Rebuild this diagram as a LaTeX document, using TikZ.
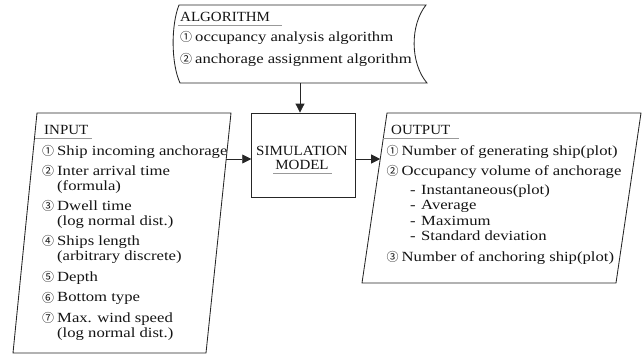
\documentclass[tikz,border=0pt]{standalone}
\usepackage{fontspec}
\setmainfont{Liberation Serif}
\newfontfamily\bodyfont[FakeStretch=1.19]{Liberation Serif}
\newfontfamily\capsfont[FakeStretch=1.07]{Liberation Serif}
\newfontfamily\circfont{Noto Sans CJK KR}
\usetikzlibrary{arrows.meta}
\newcommand{\cnum}[1]{\makebox[15pt][l]{\raisebox{-0.5pt}{\circfont\fontsize{12}{12}\selectfont #1}}}
\newcommand{\subdash}{\makebox[11pt][l]{-}}
\begin{document}
\begin{tikzpicture}[x=1pt,y=-1pt,
  txt/.style={anchor=base west, inner sep=0pt, text=black!92, font=\bodyfont\fontsize{14}{15}\selectfont},
  captxt/.style={inner sep=0pt, text=black!92, font=\capsfont\fontsize{14}{15}\selectfont},
  frame/.style={draw=black!85, line width=0.85pt},
  uline/.style={draw=black!40, line width=0.6pt},
  conn/.style={draw=black!85, line width=0.85pt, -{Triangle[length=9pt,width=9pt]}}]
\useasboundingbox (0,0) rectangle (643,356);

% ALGORITHM (stored data shape)
\draw[frame] (179,5) -- (426,5) .. controls (410,25) and (410,63) .. (427,83)
  -- (180,83) .. controls (171,63) and (171,25) .. (179,5) -- cycle;
\coordinate (alg) at (300,83);
\node[captxt, anchor=base west] (algT) at (180,21.5) {ALGORITHM};
\draw[uline] (178,25) -- (282,25);
\node[txt] (alg1) at (180,41) {\cnum{①}occupancy analysis algorithm};
\node[txt] (alg2) at (180,63) {\cnum{②}anchorage assignment algorithm};

% SIMULATION MODEL
\node[frame, minimum width=104pt, minimum height=84pt, inner sep=0pt] (sim) at (303.7,155) {};
\node[captxt, anchor=base] (simT1) at (302,155) {SIMULATION};
\node[captxt, anchor=base] (simT2) at (302,169) {MODEL};
\draw[uline] (273,173.5) -- (332,173.5);

% INPUT
\draw[frame] (37,113) -- (231,113) -- (206,353) -- (13,353) -- cycle;
\coordinate (inR) at (226.4,159);
\node[captxt, anchor=base west] (inT) at (44,134) {INPUT};
\draw[uline] (35,138.5) -- (92,138.5);
\node[txt] (in1) at (42,155) {\cnum{①}Ship incoming anchorage};
\node[txt] (in2) at (42,175) {\cnum{②}Inter arrival time};
\node[txt] (in2b) at (57,190) {(formula)};
\node[txt] (in3) at (42,210) {\cnum{③}Dwell time};
\node[txt] (in3b) at (57,225) {(log normal dist.)};
\node[txt] (in4) at (42,245) {\cnum{④}Ships length};
\node[txt] (in4b) at (57,260) {(arbitrary discrete)};
\node[txt] (in5) at (42,281) {\cnum{⑤}Depth};
\node[txt] (in6) at (42,301.5) {\cnum{⑥}Bottom type};
\node[txt] (in7) at (42,322) {\cnum{⑦}Max. wind speed};
\node[txt] (in7b) at (57,337) {(log normal dist.)};

% OUTPUT
\draw[frame] (387,113) -- (641,113) -- (616,283) -- (362,283) -- cycle;
\coordinate (outL) at (380.2,159);
\node[captxt, anchor=base west] (outT) at (391,134) {OUTPUT};
\draw[uline] (383,138.5) -- (459,138.5);
\node[txt] (o1) at (386.5,155) {\cnum{①}Number of generating ship(plot)};
\node[txt] (o2) at (386.5,175) {\cnum{②}Occupancy volume of anchorage};
\node[txt] (o2a) at (410,194) {\subdash Instantaneous(plot)};
\node[txt] (o2b) at (410,209.5) {\subdash Average};
\node[txt] (o2c) at (410,225) {\subdash Maximum};
\node[txt] (o2d) at (410,240.5) {\subdash Standard deviation};
\node[txt] (o3) at (386.5,261) {\cnum{③}Number of anchoring ship(plot)};

% connectors
\draw[conn] (alg) -- (alg |- sim.north);
\draw[conn] (inR) -- (inR -| sim.west);
\draw[conn] (sim.east |- outL) -- (outL);
\end{tikzpicture}
\end{document}
